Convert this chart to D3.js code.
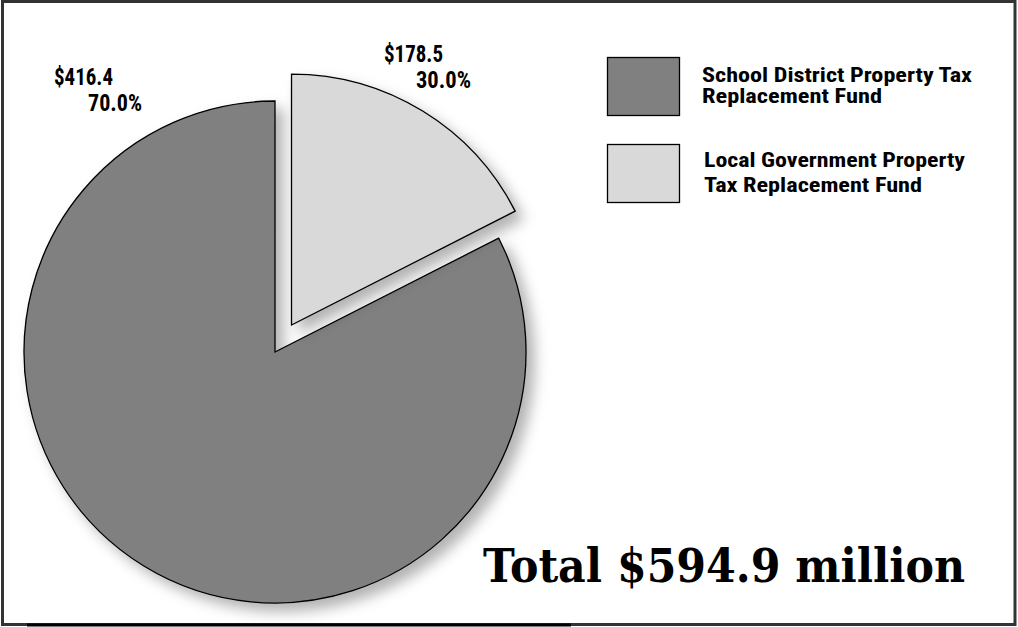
<!DOCTYPE html>
<html>
<head>
<meta charset="utf-8">
<title>Property Tax Replacement Funds</title>
<script src="https://cdn.jsdelivr.net/npm/d3@7"></script>
<style>
  html, body { margin: 0; padding: 0; background: #fff; }
  .lbl { font-family: "Liberation Sans Narrow", "Roboto Condensed", "DejaVu Sans Condensed", "Liberation Sans", sans-serif; font-weight: bold; font-stretch: condensed; fill: #000; }
  .total { font-family: "DejaVu Serif", "Liberation Serif", serif; font-weight: bold; fill: #000; }
</style>
</head>
<body>
<script>
// data (legend order)
var categories = ["School District Property Tax Replacement Fund", "Local Government Property Tax Replacement Fund"];
var legendLines = [["School District Property Tax", "Replacement Fund"], ["Local Government Property", "Tax Replacement Fund"]];
var amounts = [416.4, 178.5];          // $ million
var percents = [70.0, 30.0];
// slice sizes as actually drawn in the original artwork (%)
var drawnShare = [82.5, 17.5];
var colors = ["#808080", "#d9d9d9"];
var totalLabel = "Total $594.9 million";

var width = 1018, height = 627;
var svg = d3.select("body").append("svg").attr("width", width).attr("height", height);

var defs = svg.append("defs");
var f = defs.append("filter").attr("id", "shadow").attr("x", "-20%").attr("y", "-20%").attr("width", "140%").attr("height", "140%");
f.append("feDropShadow").attr("dx", 8).attr("dy", 8).attr("stdDeviation", 7)
  .attr("flood-color", "#000").attr("flood-opacity", 0.3);

// frame
svg.append("rect").attr("x", 2.5).attr("y", 1.5).attr("width", 1012.5).attr("height", 623)
  .attr("fill", "none").attr("stroke", "#333").attr("stroke-width", 3);
svg.append("line").attr("x1", 27).attr("x2", 571).attr("y1", 625).attr("y2", 625)
  .attr("stroke", "#000").attr("stroke-width", 3);

var cx = 275, cy = 352, radius = 251, explode = 31.6;

// small slice starts at 12 o'clock, big one follows clockwise
var pie = d3.pie().sort(null).value(function(i) { return drawnShare[i]; });
var arcs = pie([1, 0]);
var arc = d3.arc().innerRadius(0).outerRadius(radius);

var g = svg.append("g").attr("transform", "translate(" + cx + "," + cy + ")");
// draw big slice first so the exploded one sits on top
arcs.slice().reverse().forEach(function(a) {
  var i = a.data;
  var mid = (a.startAngle + a.endAngle) / 2;
  var off = i === 1 ? explode : 0;
  g.append("path")
    .attr("d", arc(a))
    .attr("transform", "translate(" + (Math.sin(mid) * off) + "," + (-Math.cos(mid) * off) + ")")
    .attr("fill", colors[i])
    .attr("stroke", "#000")
    .attr("stroke-width", 1.3)
    .attr("stroke-linejoin", "miter")
    .attr("filter", "url(#shadow)");
});

// slice labels
var labelPos = [
  { x1: 54, y1: 85, w1: 59, x2: 88, y2: 111, w2: 54 },
  { x1: 384, y1: 62, w1: 59, x2: 416, y2: 88, w2: 55 }
];
labelPos.forEach(function(p, i) {
  svg.append("text").attr("class", "lbl").attr("x", p.x1).attr("y", p.y1)
    .attr("font-size", 23).attr("textLength", p.w1).attr("lengthAdjust", "spacingAndGlyphs")
    .text("$" + amounts[i].toFixed(1));
  svg.append("text").attr("class", "lbl").attr("x", p.x2).attr("y", p.y2)
    .attr("font-size", 23).attr("textLength", p.w2).attr("lengthAdjust", "spacingAndGlyphs")
    .text(percents[i].toFixed(1) + "%");
});

// legend
var legendY = [57, 144];
var legendTextX = [702, 704];
var legendW = [[270, 180], [261, 218]];
categories.forEach(function(c, i) {
  svg.append("rect").attr("x", 607.5).attr("y", legendY[i] + 0.5).attr("width", 72).attr("height", 58)
    .attr("fill", colors[i]).attr("stroke", "#000").attr("stroke-width", 1.3);
  legendLines[i].forEach(function(line, j) {
    svg.append("text").attr("class", "lbl")
      .attr("x", legendTextX[i]).attr("y", legendY[i] + 25 + j * 21 + (i === 1 ? -2 + j * 4 : 0))
      .attr("font-size", 20).attr("textLength", legendW[i][j]).attr("lengthAdjust", "spacingAndGlyphs")
      .text(line);
  });
});

// total
svg.append("text").attr("class", "total").attr("x", 483).attr("y", 582)
  .attr("font-size", 47).attr("textLength", 482).attr("lengthAdjust", "spacingAndGlyphs")
  .text(totalLabel);
</script>
</body>
</html>
